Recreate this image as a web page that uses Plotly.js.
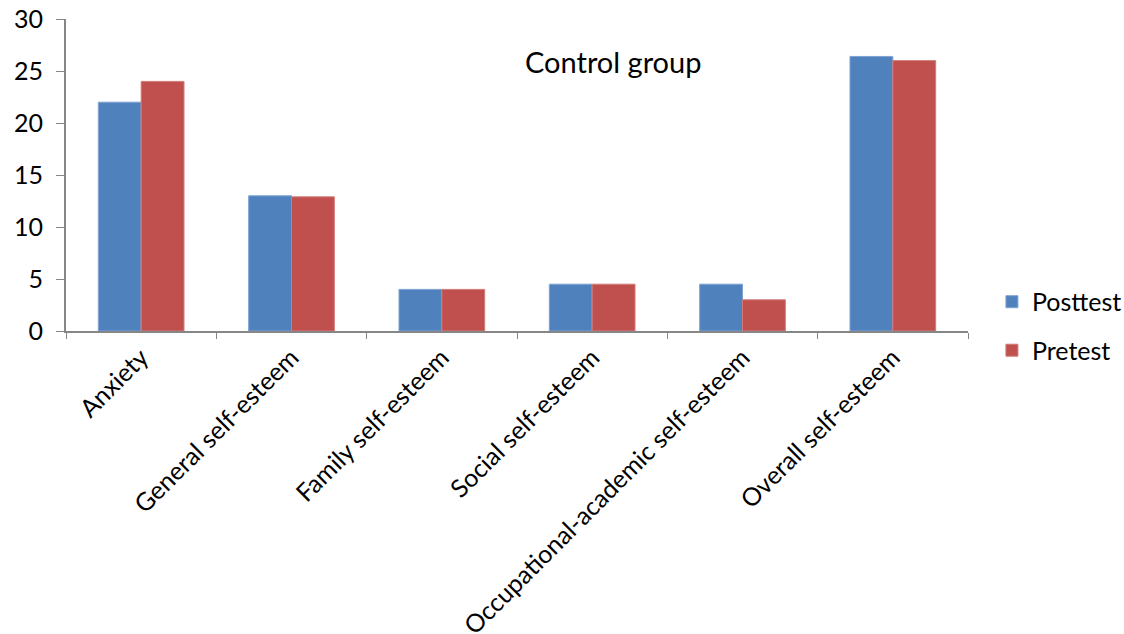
<!DOCTYPE html>
<html>
<head>
<meta charset="utf-8">
<script src="https://cdn.plot.ly/plotly-3.0.1.min.js"></script>
<style>html,body{margin:0;padding:0;background:#fff;}#chart{width:1124px;height:634px;}</style>
</head>
<body>
<div id="chart"></div>
<script>
const categories = ["Anxiety", "General self-esteem", "Family self-esteem", "Social self-esteem", "Occupational-academic self-esteem", "Overall self-esteem"];
const posttest = [22, 13, 4, 4.5, 4.5, 26.4];
const pretest = [24, 12.9, 4, 4.5, 3, 26];
const yTicks = [0, 5, 10, 15, 20, 25, 30];

const fontFam = "Lato, 'Open Sans', 'Noto Sans', sans-serif";

const traces = [
  {type: "bar", name: "Posttest", x: categories, y: posttest, legendgroup: "a",
   marker: {color: "#4F81BD", line: {color: "#7FA3D3", width: 1}}},
  {type: "bar", name: "Pretest", x: categories, y: pretest, legendgroup: "b",
   marker: {color: "#C0504D", line: {color: "#D27C7A", width: 1}}}
];

const layout = {
  width: 1124, height: 634,
  margin: {l: 66, r: 156, t: 19, b: 303},
  paper_bgcolor: "#fff", plot_bgcolor: "#fff",
  barmode: "group", bargap: 0.43, bargroupgap: 0,
  font: {family: fontFam, color: "#000"},
  xaxis: {
    type: "category", tickson: "boundaries", ticks: "outside", ticklen: 6, tickcolor: "#868686",
    showline: true, linecolor: "#868686", linewidth: 2, showgrid: false, automargin: false,
    tickangle: -45, tickfont: {size: 25, family: fontFam, color: "#000"}
  },
  yaxis: {
    range: [0, 30], tickvals: yTicks, ticks: "outside", ticklen: 8, tickcolor: "#868686",
    showline: true, linecolor: "#868686", linewidth: 2, showgrid: false, zeroline: false,
    automargin: false, ticklabelstandoff: 8,
    tickfont: {size: 25, family: fontFam, color: "#000"}
  },
  legend: {
    x: 0.8825, y: 0.56, xanchor: "left", yanchor: "top", xref: "container", yref: "container",
    font: {size: 25, family: fontFam, color: "#000"}, traceorder: "grouped", tracegroupgap: 13,
    itemwidth: 30, bgcolor: "rgba(0,0,0,0)"
  },
  annotations: [{
    text: "Control group", xref: "paper", yref: "paper", x: 0.606, y: 0.865,
    xanchor: "center", yanchor: "middle", showarrow: false,
    font: {size: 29, family: fontFam, color: "#000"}
  }]
};

Plotly.newPlot("chart", traces, layout, {staticPlot: true, displayModeBar: false});
</script>
</body>
</html>
